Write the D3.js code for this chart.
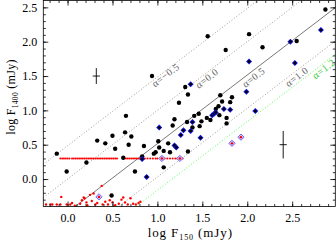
<!DOCTYPE html>
<html>
<head>
<meta charset="utf-8">
<script src="https://cdn.jsdelivr.net/npm/d3@7"></script>
<style>
  body { margin: 0; background: #fff; }
  svg { display: block; }
  text { font-family: "Liberation Serif", "Times New Roman", serif; }
</style>
</head>
<body>
<script>
// detections (black dots)
var blackX = [-0.12, -0.01, 0.21, 0.33, 0.42, 0.50, 0.53, 0.49, 0.65, 0.64, 0.71, 0.68, 0.62, 0.75, 0.85, 0.83,
  0.96, 0.98, 1.01, 1.02, 1.07, 1.07, 1.17, 1.19, 1.12, 1.14, 1.33, 1.34, 1.39, 1.41, 1.46, 1.49, 1.47, 1.59,
  1.69, 1.77, 1.77, 1.55, 1.24, 1.34, 1.31, 0.94, 1.56, 1.76, 1.70, 1.72, 1.68, 1.65, 1.83, 1.81, 2.02, 2.17,
  2.55, 2.87]
var blackY = [0.37, 0.11, 0.24, 0.56, 0.52, 0.63, 0.44, -0.24, 0.92, 0.68, 0.62, 0.50, 0.31, 0.11, 0.48, 0.33,
  0.37, 0.39, 0.55, 0.46, 0.41, 0.17, 0.78, 0.87, 0.52, 0.39, 0.83, 0.40, 0.75, 0.92, 0.95, 0.84, 0.77, 0.86,
  0.93, 0.81, 0.89, 0.89, 1.11, 1.23, 1.34, 1.50, 2.08, 1.88, 1.22, 1.13, 1.06, 1.02, 1.19, 1.12, 2.11, 1.92,
  2.01, 2.47]

// blue diamonds
var blueX = [1.37, 1.74, 1.81, 1.61, 1.63, 1.65, 2.82, 2.48, 2.02, 2.53, 1.99, 2.09, 1.02, 1.19, 1.21, 1.26,
  1.29, 1.39, 1.37, 1.48, 0.83, 0.88]
var blueY = [1.38, 1.02, 1.01, 0.93, 0.95, 0.97, 2.17, 2.00, 1.71, 1.69, 1.27, 0.99, 0.75, 0.49, 0.46, 0.64,
  0.71, 0.83, 0.70, 0.60, 0.29, 0.03]

// open diamonds with red centre
var openX = [0.35, 1.05, 1.25, 1.83, 1.93]
var openY = [-0.26, 0.30, 0.30, 0.52, 0.61]

// red limits along log F1400 = 0.3
var rowX = [-0.08, -0.06, -0.04, -0.02, 0.00, 0.02, 0.05, 0.07, 0.09, 0.11, 0.13, 0.15, 0.17, 0.19, 0.21,
  0.23, 0.25, 0.27, 0.29, 0.31, 0.33, 0.35, 0.37, 0.39, 0.41, 0.43, 0.45, 0.47, 0.49, 0.51, 0.53, 0.55,
  0.65, 0.67, 0.69, 0.71, 0.73, 0.75, 0.77, 0.79, 0.81, 0.86, 0.89, 0.92, 0.95, 0.98, 1.00, 1.08, 1.11,
  1.14, 1.17, 1.20, 1.22, 1.26, 1.28]
var rowY = 0.30

// red limits near the bottom
var lowX = [-0.24, -0.19, -0.17, -0.12, -0.08, -0.07, -0.01, 0.03, 0.05, 0.08, 0.14, 0.16, 0.18, 0.19, 0.21,
  0.22, 0.25, 0.27, 0.29, 0.31, 0.33, 0.38, 0.39, 0.42, 0.45, 0.47, 0.50, 0.53, 0.57, 0.60, 0.62, 0.64,
  0.67, 0.70, 0.73, 0.76, 0.79, 0.81]
var lowY = [-0.37, -0.37, -0.37, -0.37, -0.37, -0.26, -0.37, -0.37, -0.35, -0.39, -0.36, -0.31, -0.27, -0.28,
  -0.34, -0.38, -0.23, -0.32, -0.21, -0.37, -0.35, -0.10, -0.37, -0.33, -0.37, -0.31, -0.34, -0.38, -0.36,
  -0.30, -0.27, -0.34, -0.37, -0.28, -0.36, -0.37, -0.35, -0.33]

// typical error bars
var errX = [0.32, 2.40], errY = [1.50, 0.50]
var errDx = [0.04, 0.04], errDy = [0.115, 0.20]

// spectral index lines
var alphas = [-0.5, 0.0, 0.5, 1.0, 1.2]
var alphaText = ["α=−0.5", "α=0.0", "α=0.5", "α=1.0", "α=1.2"]
var alphaLabX = [1.09, 1.55, 2.07, 2.55, 2.85]
var alphaLabY = [1.515, 1.467, 1.482, 1.49, 1.605]

var xTicks = [0.0, 0.5, 1.0, 1.5, 2.0, 2.5]
var yTicks = [0.0, 0.5, 1.0, 1.5, 2.0, 2.5]

var W = 336, H = 242
var L = 43.3, R = 335.3, T = 0.5, B = 206.5
var x = d3.scaleLinear().domain([-0.27, 2.98]).range([L, R])
var y = d3.scaleLinear().domain([-0.4, 2.6]).range([B, T])
var logRatio = Math.log10(1400 / 150)

var svg = d3.select("body").append("svg").attr("width", W).attr("height", H)

svg.append("clipPath").attr("id", "clip").append("rect")
  .attr("x", L).attr("y", T).attr("width", R - L).attr("height", B - T)

var plot = svg.append("g").attr("clip-path", "url(#clip)")

// diagonal lines
var xd = x.domain()
alphas.forEach(function (a, i) {
  var off = -a * logRatio
  plot.append("line")
    .attr("x1", x(xd[0])).attr("y1", y(xd[0] + off))
    .attr("x2", x(xd[1])).attr("y2", y(xd[1] + off))
    .attr("stroke", a == 1.2 ? "#5f5" : (a == 0.5 ? "#555" : "#999"))
    .attr("stroke-width", a == 0.5 ? 0.8 : 1)
    .attr("stroke-dasharray", a == 0.5 ? null : "1,2")
})

var angle = -Math.atan((y(0) - y(1)) / (x(1) - x(0))) * 180 / Math.PI
alphaText.forEach(function (t, i) {
  svg.append("text")
    .attr("transform", "translate(" + x(alphaLabX[i]) + "," + y(alphaLabY[i]) + ") rotate(" + angle + ")")
    .attr("text-anchor", "middle").attr("dominant-baseline", "central")
    .attr("font-size", 10).attr("letter-spacing", 0.5)
    .attr("fill", i == 4 ? "#3c3" : "#666")
    .text(t)
})

// red limits
plot.selectAll(".row").data(rowX).enter().append("circle")
  .attr("cx", function (d) { return x(d) }).attr("cy", y(rowY)).attr("r", 1.05).attr("fill", "#f00")
plot.selectAll(".low").data(lowX).enter().append("circle")
  .attr("cx", function (d) { return x(d) }).attr("cy", function (d, i) { return y(lowY[i]) })
  .attr("r", 1.2).attr("fill", "#f00")

var diamond = {
  draw: function (ctx, size) {
    var r = Math.sqrt(size / 2)
    ctx.moveTo(0, -r); ctx.lineTo(r, 0); ctx.lineTo(0, r); ctx.lineTo(-r, 0); ctx.closePath()
  }
}

// black detections
plot.selectAll(".blk").data(blackX).enter().append("circle")
  .attr("cx", function (d) { return x(d) }).attr("cy", function (d, i) { return y(blackY[i]) })
  .attr("r", 2.2).attr("fill", "#000")

// blue diamonds with dark centre
var bl = plot.selectAll(".blu").data(blueX).enter().append("g")
  .attr("transform", function (d, i) { return "translate(" + x(d) + "," + y(blueY[i]) + ")" })
bl.append("path").attr("d", d3.symbol(diamond, 18)).attr("fill", "#1010d8")
bl.append("circle").attr("r", 1.4).attr("fill", "#000")

// open diamonds with red centre
var op = plot.selectAll(".opn").data(openX).enter().append("g")
  .attr("transform", function (d, i) { return "translate(" + x(d) + "," + y(openY[i]) + ")" })
op.append("path").attr("d", d3.symbol(diamond, 20)).attr("fill", "#c8c0ff").attr("stroke", "#6f5fe8").attr("stroke-width", 0.9)
op.append("circle").attr("r", 1.2).attr("fill", "#f00")

// error crosses
errX.forEach(function (d, i) {
  svg.append("line").attr("x1", x(d - errDx[i])).attr("x2", x(d + errDx[i]))
    .attr("y1", y(errY[i])).attr("y2", y(errY[i])).attr("stroke", "#000").attr("stroke-width", 0.9)
  svg.append("line").attr("x1", x(d)).attr("x2", x(d))
    .attr("y1", y(errY[i] - errDy[i])).attr("y2", y(errY[i] + errDy[i])).attr("stroke", "#000").attr("stroke-width", 0.9)
})

// axes
var minorX = d3.range(-20, 298, 10).map(function (v) { return v / 100 })
var minorY = d3.range(-30, 260, 10).map(function (v) { return v / 100 })
function styleAxis(g) {
  g.select(".domain").remove()
  g.selectAll("line").attr("stroke", "#000").attr("stroke-width", 0.8)
  g.selectAll("text").attr("font-family", "Liberation Serif, serif").attr("font-size", 12).attr("fill", "#000")
}
svg.append("g").attr("transform", "translate(0," + B + ")")
  .call(d3.axisBottom(x).tickValues(xTicks).tickSize(-5).tickPadding(7).tickFormat(d3.format(".1f"))).call(styleAxis)
svg.append("g").attr("transform", "translate(0," + B + ")")
  .call(d3.axisBottom(x).tickValues(minorX).tickSize(-2.5).tickFormat("")).call(styleAxis)
svg.append("g").attr("transform", "translate(0," + T + ")")
  .call(d3.axisTop(x).tickValues(xTicks).tickSize(-5).tickFormat("")).call(styleAxis)
svg.append("g").attr("transform", "translate(0," + T + ")")
  .call(d3.axisTop(x).tickValues(minorX).tickSize(-2.5).tickFormat("")).call(styleAxis)
svg.append("g").attr("transform", "translate(" + L + ",0)")
  .call(d3.axisLeft(y).tickValues(yTicks).tickSize(-5).tickPadding(6).tickFormat(d3.format(".1f"))).call(styleAxis)
svg.append("g").attr("transform", "translate(" + L + ",0)")
  .call(d3.axisLeft(y).tickValues(minorY).tickSize(-2.5).tickFormat("")).call(styleAxis)
svg.append("g").attr("transform", "translate(" + R + ",0)")
  .call(d3.axisRight(y).tickValues(yTicks).tickSize(-5).tickFormat("")).call(styleAxis)
svg.append("g").attr("transform", "translate(" + R + ",0)")
  .call(d3.axisRight(y).tickValues(minorY).tickSize(-2.5).tickFormat("")).call(styleAxis)

svg.append("rect").attr("x", L).attr("y", T).attr("width", R - L).attr("height", B - T)
  .attr("fill", "none").attr("stroke", "#000").attr("stroke-width", 0.8)

// axis titles
var xt = svg.append("text").attr("x", (L + R) / 2 + 1).attr("y", 237)
  .attr("text-anchor", "middle").attr("font-size", 13).attr("letter-spacing", 0.9)
xt.append("tspan").text("log F")
xt.append("tspan").attr("font-size", 8).attr("dy", 3).text("150")
xt.append("tspan").attr("dy", -3).text(" (mJy)")

var yt = svg.append("text").attr("transform", "translate(15,97) rotate(-90)")
  .attr("text-anchor", "middle").attr("font-size", 12).attr("letter-spacing", 0.3)
yt.append("tspan").text("log F")
yt.append("tspan").attr("font-size", 7.5).attr("dy", 3).text("1400")
yt.append("tspan").attr("dy", -3).text(" (mJy)")
</script>
</body>
</html>
